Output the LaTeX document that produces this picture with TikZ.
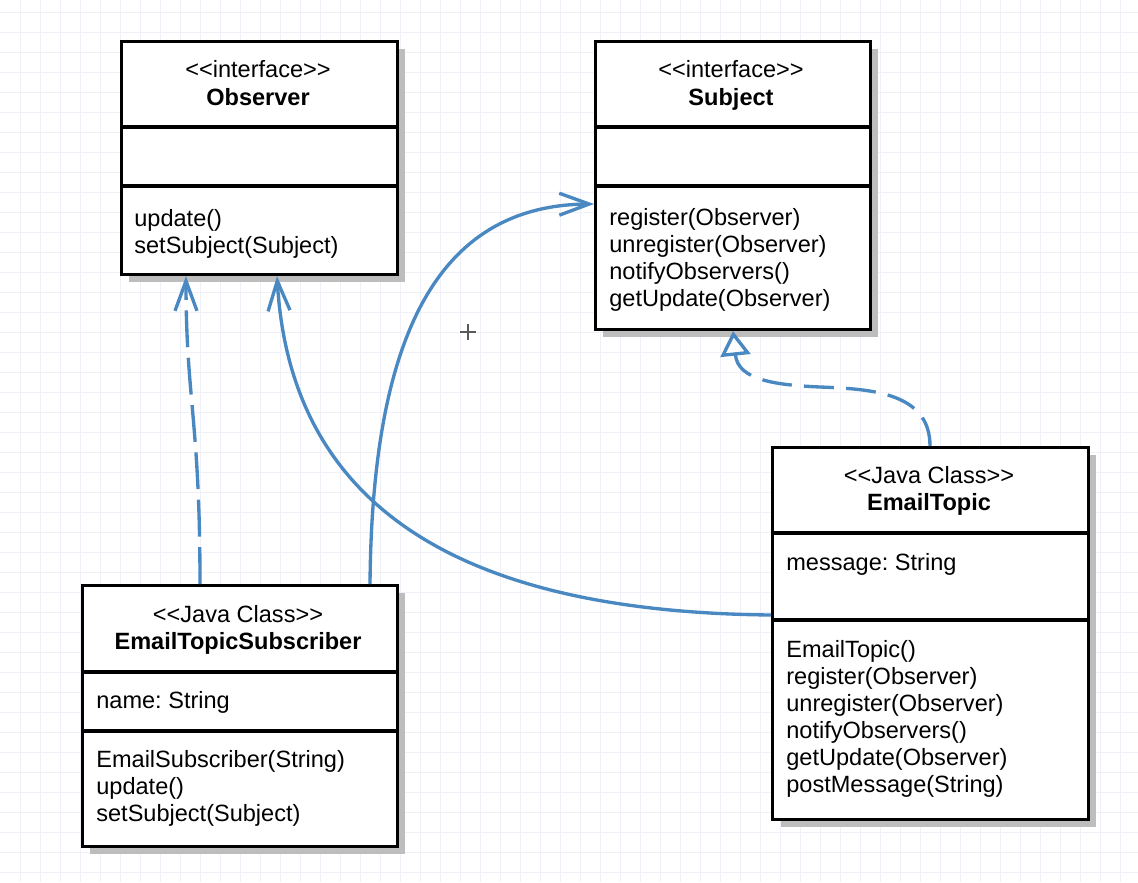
\documentclass[tikz,border=0pt]{standalone}
\usepackage{fontspec}
\setmainfont{Liberation Sans}
\usetikzlibrary{arrows.meta, shadows}
\definecolor{linkblue}{HTML}{4A88C2}
\definecolor{gridlav}{HTML}{F0F0F8}
\definecolor{shadowgray}{HTML}{BDBDBD}
\frenchspacing

\tikzset{
  classbox/.style={draw, line width=1.8pt, fill=white, anchor=north west, inner sep=0pt,
    drop shadow={shadow xshift=4.5pt, shadow yshift=-4pt, fill=shadowgray, opacity=1}},
  classrule/.style={line width=1.8pt},
  umltext/.style={inner sep=0pt, font=\fontsize{13.4}{15.4}\selectfont},
  membertext/.style={umltext, align=left, anchor=north west},
  linkline/.style={linkblue, line width=1.9pt},
  vhead/.style={-{Straight Barb[length=17pt, width=12.5pt, line width=1.9pt]}},
  realizes/.style={dash pattern=on 17pt off 7pt,
    -{Triangle[open, fill=white, length=14pt, width=17pt, line width=1.9pt]}}
}

\begin{document}
\begin{tikzpicture}[x=0.02cm, y=-0.02cm]
  \useasboundingbox (0,0) rectangle (1138,882);

  % background grid
  \fill[white] (0,0) rectangle (1138,882);
  \foreach \gx in {20,40,...,1120} \draw[gridlav, line width=0.5pt] (\gx,0) -- (\gx,882);
  \foreach \gy in {12,32,...,872} \draw[gridlav, line width=0.5pt] (0,\gy) -- (1138,\gy);

  % Observer interface
  \node[classbox, minimum width=5.52cm, minimum height=4.66cm] (observer) at (120,40) {};
  \draw[classrule] (observer.west |- 0,127) -- (observer.east |- 0,127);
  \draw[classrule] (observer.west |- 0,186) -- (observer.east |- 0,186);
  \node[umltext, anchor=base] (observerstereo) at (258,77) {<{}<interface>{}>};
  \node[umltext, anchor=base, font=\fontsize{13.4}{15.4}\selectfont\bfseries] (observername) at (258,106) {Observer};
  \node[membertext] (observerops) at (134,209) {update()\\setSubject(Subject)};

  % Subject interface
  \node[classbox, minimum width=5.5cm, minimum height=5.76cm] (subject) at (594,40) {};
  \draw[classrule] (subject.west |- 0,127) -- (subject.east |- 0,127);
  \draw[classrule] (subject.west |- 0,186) -- (subject.east |- 0,186);
  \node[umltext, anchor=base] (subjectstereo) at (731,77) {<{}<interface>{}>};
  \node[umltext, anchor=base, font=\fontsize{13.4}{15.4}\selectfont\bfseries] (subjectname) at (731,106) {Subject};
  \node[membertext] (subjectops) at (609,208)
    {register(Observer)\\unregister(Observer)\\notifyObservers()\\getUpdate(Observer)};

  % EmailTopicSubscriber class
  \node[classbox, minimum width=6.3cm, minimum height=5.22cm] (subscriber) at (81,584) {};
  \draw[classrule] (subscriber.west |- 0,672) -- (subscriber.east |- 0,672);
  \draw[classrule] (subscriber.west |- 0,731) -- (subscriber.east |- 0,731);
  \node[umltext, anchor=base] (subscriberstereo) at (238,622) {<{}<Java Class>{}>};
  \node[umltext, anchor=base, font=\fontsize{13.4}{15.4}\selectfont\bfseries] (subscribername) at (238,649) {EmailTopicSubscriber};
  \node[umltext, anchor=base west] (subscriberattr) at (96,708) {name: String};
  \node[membertext] (subscriberops) at (96,750)
    {EmailSubscriber(String)\\update()\\setSubject(Subject)};

  % EmailTopic class
  \node[classbox, minimum width=6.32cm, minimum height=7.44cm] (topic) at (771,446) {};
  \draw[classrule] (topic.west |- 0,533) -- (topic.east |- 0,533);
  \draw[classrule] (topic.west |- 0,620) -- (topic.east |- 0,620);
  \node[umltext, anchor=base] (topicstereo) at (929,483) {<{}<Java Class>{}>};
  \node[umltext, anchor=base, font=\fontsize{13.4}{15.4}\selectfont\bfseries] (topicname) at (929,510) {EmailTopic};
  \node[umltext, anchor=base west] (topicattr) at (786,570) {message: String};
  \node[membertext] (topicops) at (786,640)
    {EmailTopic()\\register(Observer)\\unregister(Observer)\\notifyObservers()\\getUpdate(Observer)\\postMessage(String)};

  % connectors
  \draw[linkline, vhead, dash pattern=on 21pt off 6pt] (subscriber.north -| 200,0)
    .. controls (200,420) and (186,400) .. (observer.south -| 186,0);
  \draw[linkline, vhead] (topic.west |- 0,615) .. controls (450,612) and (290,500) .. (observer.south -| 277,0);
  \draw[linkline, vhead] (subscriber.north -| 370,0) .. controls (372,350) and (430,205) .. (subject.west |- 0,204);
  \draw[linkline, realizes] (topic.north -| 930,0) .. controls (930,392) and (870,389) .. (820,387)
    .. controls (775,385) and (738,380) .. (subject.south -| 733,0);

  % cursor mark
  \draw[black!65, line width=1pt] (460,332) -- (476,332) (468,324) -- (468,340);
\end{tikzpicture}
\end{document}
